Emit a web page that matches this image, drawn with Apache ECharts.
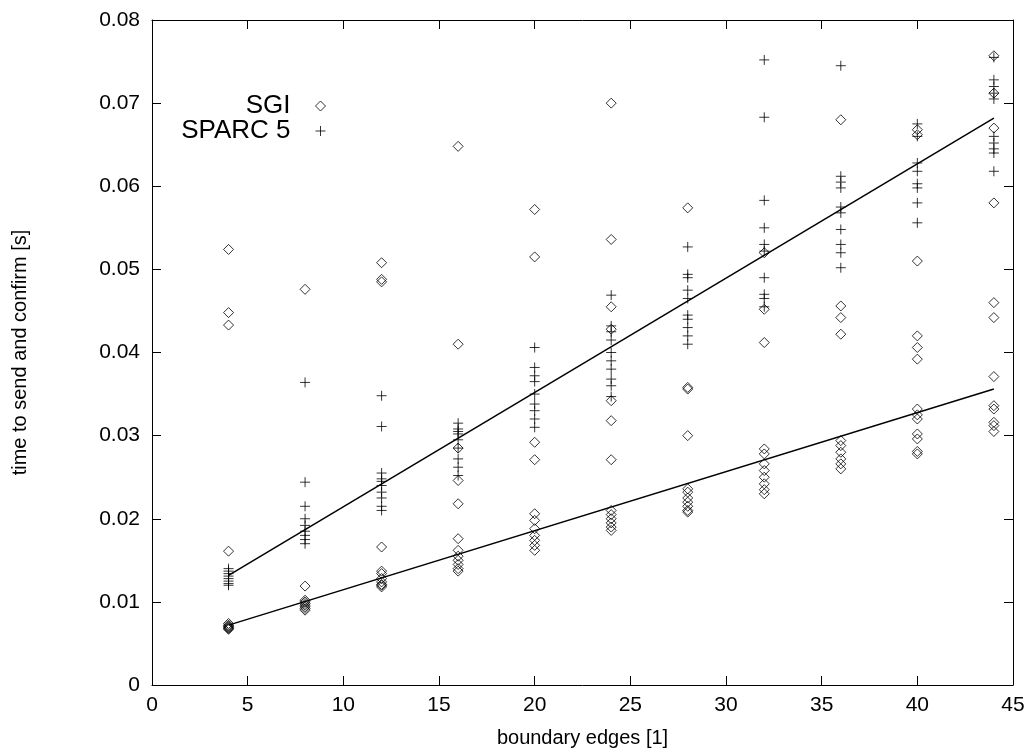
<!DOCTYPE html>
<html><head><meta charset="utf-8">
<script src="https://cdn.jsdelivr.net/npm/echarts@6/dist/echarts.min.js"></script>
<style>html,body{margin:0;padding:0;background:#fff}#c{width:1032px;height:753px}</style>
</head><body><div id="c"></div>
<script>
var xCats = [4, 8, 12, 16, 20, 24, 28, 32, 36, 40, 44];
var sgi = [
  [0.0524, 0.0448, 0.0433, 0.0161, 0.0074, 0.0072, 0.0071, 0.0070, 0.0069, 0.0068, 0.0067],
  [0.0476, 0.0119, 0.0102, 0.0100, 0.0098, 0.0096, 0.0094, 0.0092, 0.0090],
  [0.0508, 0.0488, 0.0485, 0.0166, 0.0137, 0.0134, 0.0128, 0.0124, 0.0121, 0.0120, 0.0118],
  [0.0648, 0.0410, 0.0285, 0.0246, 0.0218, 0.0176, 0.0162, 0.0155, 0.0150, 0.0145, 0.0140, 0.0137],
  [0.0572, 0.0515, 0.0292, 0.0271, 0.0206, 0.0198, 0.0188, 0.0180, 0.0174, 0.0168, 0.0162],
  [0.0700, 0.0536, 0.0455, 0.0428, 0.0342, 0.0318, 0.0271, 0.0210, 0.0205, 0.0200, 0.0195, 0.0190, 0.0186],
  [0.0574, 0.0358, 0.0356, 0.0300, 0.0236, 0.0232, 0.0225, 0.0220, 0.0215, 0.0210, 0.0208],
  [0.0520, 0.0452, 0.0412, 0.0284, 0.0278, 0.0266, 0.0258, 0.0250, 0.0242, 0.0235, 0.0230],
  [0.0680, 0.0456, 0.0442, 0.0422, 0.0294, 0.0288, 0.0280, 0.0272, 0.0266, 0.0260],
  [0.0668, 0.0662, 0.0510, 0.0420, 0.0406, 0.0392, 0.0332, 0.0325, 0.0320, 0.0302, 0.0296, 0.0281, 0.0278],
  [0.0757, 0.0712, 0.0670, 0.0580, 0.0460, 0.0442, 0.0371, 0.0336, 0.0332, 0.0316, 0.0312, 0.0305]
];
var sparc = [
  [0.0140, 0.0137, 0.0134, 0.0131, 0.0128, 0.0125, 0.0122, 0.0120],
  [0.0364, 0.0244, 0.0215, 0.0200, 0.0192, 0.0185, 0.0180, 0.0175, 0.0170],
  [0.0348, 0.0311, 0.0255, 0.0248, 0.0245, 0.0240, 0.0232, 0.0225, 0.0215, 0.0210],
  [0.0315, 0.0308, 0.0305, 0.0302, 0.0295, 0.0285, 0.0272, 0.0262, 0.0252],
  [0.0406, 0.0382, 0.0372, 0.0365, 0.0350, 0.0338, 0.0330, 0.0320, 0.0310],
  [0.0469, 0.0432, 0.0425, 0.0415, 0.0400, 0.0390, 0.0380, 0.0368, 0.0360, 0.0347],
  [0.0527, 0.0494, 0.0490, 0.0475, 0.0465, 0.0445, 0.0440, 0.0430, 0.0420, 0.0410],
  [0.0752, 0.0683, 0.0583, 0.0550, 0.0530, 0.0522, 0.0490, 0.0470, 0.0465, 0.0455],
  [0.0745, 0.0612, 0.0605, 0.0598, 0.0575, 0.0568, 0.0548, 0.0530, 0.0520, 0.0502],
  [0.0675, 0.0660, 0.0628, 0.0618, 0.0603, 0.0598, 0.0580, 0.0556],
  [0.0755, 0.0728, 0.0720, 0.0712, 0.0705, 0.0660, 0.0652, 0.0645, 0.0640, 0.0618]
];
var sparcFit = [[4, 0.0132], [44, 0.0682]];
var sgiFit = [[4, 0.0072], [44, 0.0356]];
var yTickLabels = ['0', '0.01', '0.02', '0.03', '0.04', '0.05', '0.06', '0.07', '0.08'];

function pts(cols) {
  var out = [];
  cols.forEach(function (col, i) { col.forEach(function (v) { out.push([xCats[i], v]); }); });
  return out;
}
var plusPath = 'path://M0,5L10,5M5,0L5,10';
var font = 'Liberation Sans, Arial, sans-serif';
var chart = echarts.init(document.getElementById('c'), null, { renderer: 'canvas' });
var axLine = { show: true, onZero: false, lineStyle: { color: '#000', width: 1 } };
var tick = { show: true, inside: true, length: 9, lineStyle: { color: '#000' } };
var legText = { fontFamily: font, fontSize: 26, lineHeight: 26, color: '#000', padding: [0, 20, 0, 0] };
chart.setOption({
  animation: false,
  backgroundColor: '#fff',
  grid: { left: 152, right: 19, top: 20, bottom: 68, containLabel: false },
  legend: [
    { data: [{ name: 'SGI', icon: 'diamond' }], orient: 'vertical', align: 'right', right: 704, top: 93, padding: 0,
      itemWidth: 10, itemHeight: 10, textStyle: legText, selectedMode: false,
      itemStyle: { color: 'none', borderColor: '#000', borderWidth: 1 } },
    { data: [{ name: 'SPARC 5', icon: plusPath }], orient: 'vertical', align: 'right', right: 704, top: 118, padding: 0,
      itemWidth: 10, itemHeight: 10, textStyle: legText, selectedMode: false,
      itemStyle: { color: 'none', borderColor: '#000', borderWidth: 1 } }
  ],
  xAxis: [
    { type: 'value', min: 0, max: 45, interval: 5, position: 'bottom',
      axisLine: axLine, axisTick: tick,
      axisLabel: { fontFamily: font, fontSize: 21, color: '#000', margin: 10 },
      splitLine: { show: false },
      name: 'boundary edges [1]', nameLocation: 'middle', nameGap: 43,
      nameTextStyle: { fontFamily: font, fontSize: 20, color: '#000' } },
    { type: 'value', min: 0, max: 45, interval: 5, position: 'top',
      axisLine: axLine, axisTick: tick,
      axisLabel: { show: false }, splitLine: { show: false } }
  ],
  yAxis: [
    { type: 'value', min: 0, max: 0.08, interval: 0.01, position: 'left',
      axisLine: axLine, axisTick: tick,
      axisLabel: { fontFamily: font, fontSize: 21, color: '#000', margin: 12,
        formatter: function (v) { return yTickLabels[Math.round(v * 100)]; } },
      splitLine: { show: false },
      name: 'time to send and confirm [s]', nameLocation: 'middle', nameGap: 122, nameRotate: 90,
      nameTextStyle: { fontFamily: font, fontSize: 20, color: '#000' } },
    { type: 'value', min: 0, max: 0.08, interval: 0.01, position: 'right',
      axisLine: axLine, axisTick: tick,
      axisLabel: { show: false }, splitLine: { show: false } }
  ],
  series: [
    { name: 'SGI', type: 'scatter', data: pts(sgi), symbol: 'diamond', symbolSize: 10,
      itemStyle: { color: 'none', borderColor: '#000', borderWidth: 1 }, z: 3 },
    { name: 'SPARC 5', type: 'scatter', data: pts(sparc), symbol: plusPath, symbolSize: 10,
      itemStyle: { color: 'none', borderColor: '#000', borderWidth: 1 }, z: 3 },
    { name: 'sparcFit', type: 'line', data: sparcFit, showSymbol: false, symbol: 'none',
      lineStyle: { color: '#000', width: 1.5 }, z: 2 },
    { name: 'sgiFit', type: 'line', data: sgiFit, showSymbol: false, symbol: 'none',
      lineStyle: { color: '#000', width: 1.5 }, z: 2 }
  ]
});
</script></body></html>
